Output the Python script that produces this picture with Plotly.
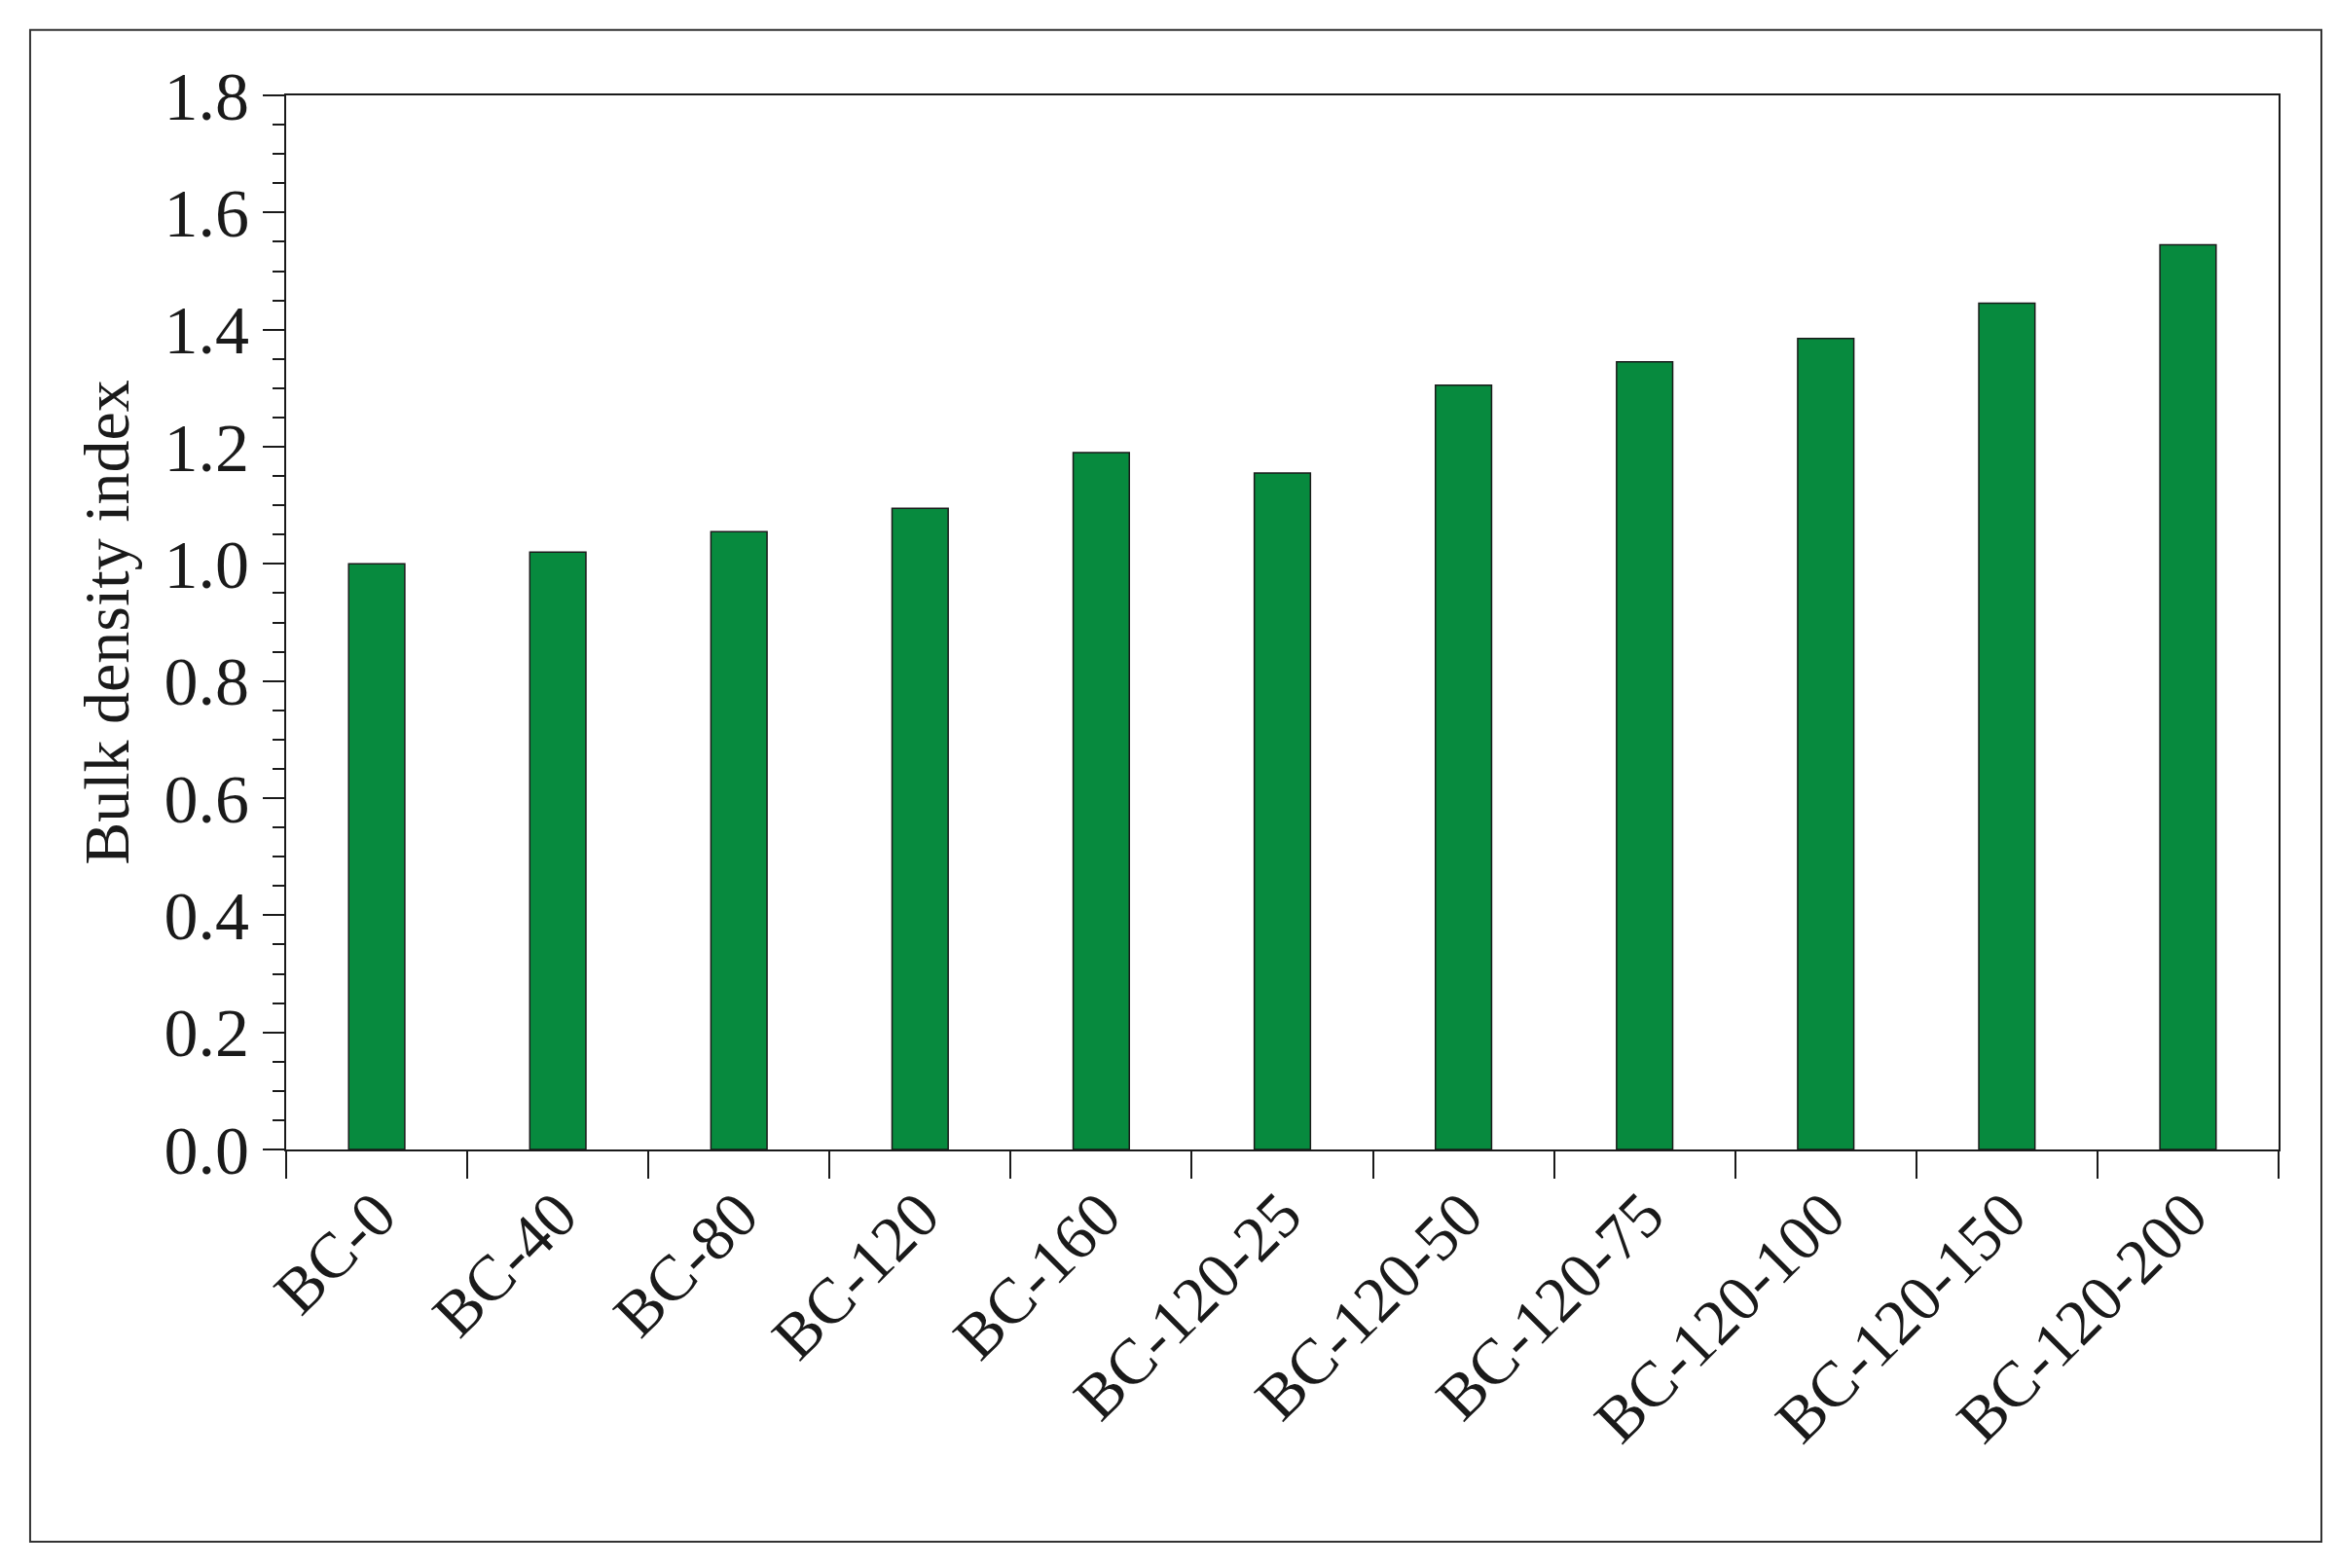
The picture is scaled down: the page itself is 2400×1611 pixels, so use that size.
import plotly.graph_objects as go

categories = ["BC-0","BC-40","BC-80","BC-120","BC-160","BC-120-25","BC-120-50","BC-120-75","BC-120-100","BC-120-150","BC-120-200"]
values = [1.0, 1.02, 1.055, 1.095, 1.19, 1.155, 1.305, 1.345, 1.385, 1.445, 1.545]
yticks = [0.0,0.2,0.4,0.6,0.8,1.0,1.2,1.4,1.6,1.8]

font = "Liberation Serif"
fig = go.Figure(go.Bar(x=categories, y=values, width=0.31,
                       marker=dict(color="#078a3e", line=dict(color="#1a1a1a", width=1.5))))
fig.update_layout(
    width=2400, height=1611, paper_bgcolor="white", plot_bgcolor="white",
    margin=dict(l=286, r=67, t=90, b=438), showlegend=False,
    font=dict(family=font, color="#1a1a1a"),
    shapes=[dict(type="rect", xref="paper", yref="paper", x0=-0.1285, x1=1.0215,
                 y0=-0.372, y1=1.062, line=dict(color="#333", width=2))],
)
fig.update_xaxes(showline=True, mirror=True, linecolor="#1a1a1a", linewidth=2,
                 ticks="outside", tickson="boundaries", ticklen=28, tickwidth=2,
                 tickcolor="#1a1a1a", tickangle=-45, tickfont=dict(size=66, family=font))
fig.update_yaxes(showline=True, mirror=True, linecolor="#1a1a1a", linewidth=2,
                 range=[0, 1.8], tickvals=yticks, ticktext=[f"{v:.1f}" for v in yticks],
                 ticks="outside", ticklen=22, tickwidth=2, tickcolor="#1a1a1a",
                 minor=dict(dtick=0.05, ticks="outside", ticklen=12, tickwidth=2, tickcolor="#1a1a1a"),
                 showgrid=False, zeroline=False, tickfont=dict(size=70, family=font),
                 title=dict(text="Bulk density index", font=dict(size=66, family=font), standoff=14))
fig.write_html("out.html")
